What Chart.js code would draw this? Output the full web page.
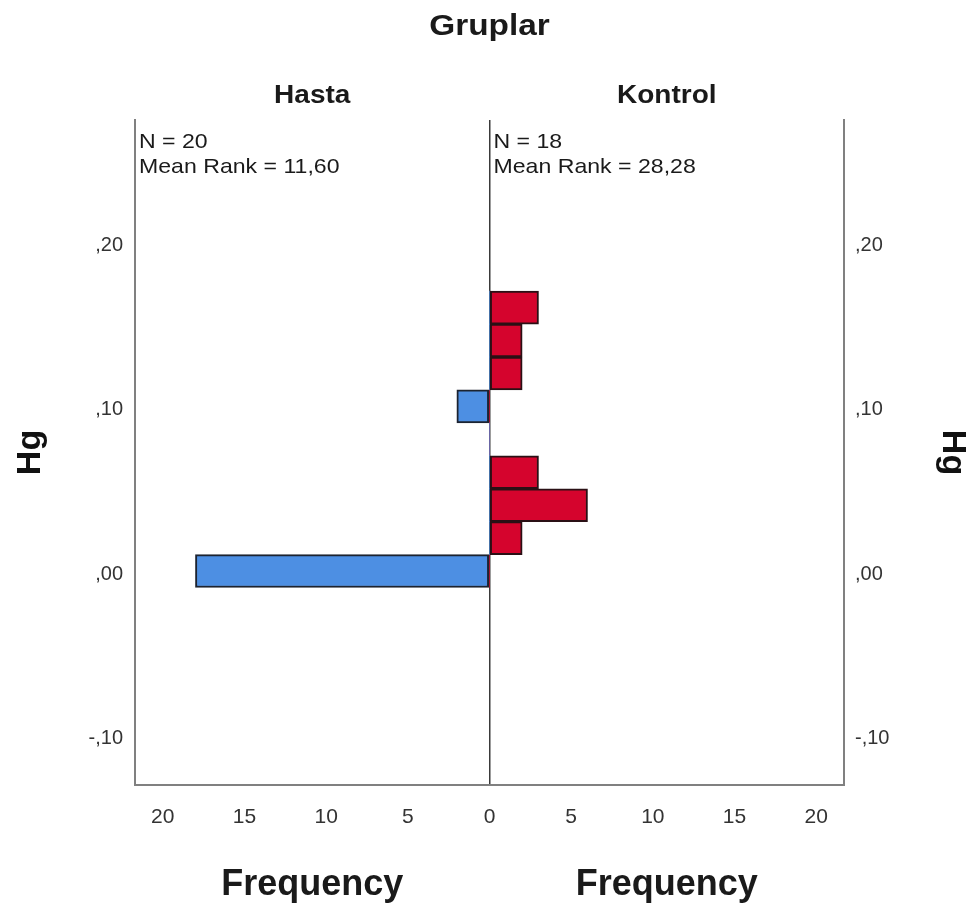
<!DOCTYPE html>
<html>
<head>
<meta charset="utf-8">
<script src="https://cdn.jsdelivr.net/npm/chart.js@4"></script>
<style>
  body { margin: 0; background: #fff; }
  #wrap { width: 971px; height: 903px; }
</style>
</head>
<body>
<div id="wrap"><canvas id="myChart"></canvas></div>
<script>
// histogram bins (Hg value at bin centre) and counts per group
const binCenters = [0.002, 0.022, 0.042, 0.062, 0.082, 0.102, 0.122, 0.142, 0.162];
const hastaCounts = [18, 0, 0, 0, 0, 2, 0, 0, 0];
const kontrolCounts = [0, 2, 6, 3, 0, 0, 2, 2, 3];

const yTicks = [-0.1, 0, 0.1, 0.2];
const yTickLabels = ["-,10", ",00", ",10", ",20"];
const xTicks = [-20, -15, -10, -5, 0, 5, 10, 15, 20];

const groupNames = ["Hasta", "Kontrol"];
const groupN = [20, 18];
const meanRanks = ["11,60", "28,28"];

const FONT = "'Liberation Sans', Arial, sans-serif";

const yRange = { min: -0.128, max: 0.276 };
const xRange = { min: -21.7, max: 21.7 };

function yTickSetup(scale) {
  scale.ticks = yTicks.map(v => ({ value: v }));
}

// the SPSS text looks slightly wide, so stretch it a little
function wideText(ctx, txt, x, y, sx) {
  ctx.save();
  ctx.translate(x, y);
  ctx.scale(sx, 1);
  ctx.fillText(txt, 0, 0);
  ctx.restore();
}

const textPlugin = {
  id: "panelText",
  afterDraw(chart) {
    const ctx = chart.ctx;
    const area = chart.chartArea;
    const zero = chart.scales.x.getPixelForValue(0);
    const centers = [(area.left + zero) / 2, (zero + area.right) / 2];
    const starts = [area.left, zero];
    ctx.save();
    ctx.fillStyle = "#1a1a1a";
    ctx.textBaseline = "alphabetic";

    ctx.textAlign = "center";
    ctx.font = "bold 29px " + FONT;
    wideText(ctx, "Gruplar", (area.left + area.right) / 2, 35, 1.15);

    ctx.font = "bold 25px " + FONT;
    groupNames.forEach((g, i) => wideText(ctx, g, centers[i], 103, 1.12));

    ctx.font = "bold 36px " + FONT;
    centers.forEach(c => ctx.fillText("Frequency", c, 895));

    ctx.textAlign = "left";
    ctx.font = "21px " + FONT;
    groupNames.forEach((g, i) => {
      wideText(ctx, "N = " + groupN[i], starts[i] + 4, 148, 1.1);
      wideText(ctx, "Mean Rank = " + meanRanks[i], starts[i] + 4, 173, 1.1);
    });
    ctx.restore();
  }
};

const barStyle = {
  borderWidth: ctx => (ctx.raw && ctx.raw.x !== 0 ? 2 : 0),
  borderSkipped: false,
  grouped: false,
  barPercentage: 1,
  categoryPercentage: 1,
};

const data = {
  datasets: [
    {
      label: "Hasta",
      data: binCenters.map((b, i) => ({ y: b, x: -hastaCounts[i] })),
      backgroundColor: "#4d8fe3",
      borderColor: "#1c2330",
      ...barStyle,
    },
    {
      label: "Kontrol",
      data: binCenters.map((b, i) => ({ y: b, x: kontrolCounts[i] })),
      backgroundColor: "#d5042d",
      borderColor: "#2a1015",
      ...barStyle,
    },
  ],
};

const yTitle = {
  display: true,
  text: "Hg",
  color: "#111",
  font: { family: FONT, size: 34, weight: "bold", lineHeight: 1 },
};

const config = {
  type: "bar",
  data,
  options: {
    indexAxis: "y",
    responsive: true,
    maintainAspectRatio: false,
    animation: false,
    layout: { padding: { top: 120, left: 0, right: 0, bottom: 0 } },
    plugins: {
      legend: { display: false },
      tooltip: { enabled: false },
    },
    scales: {
      x: {
        type: "linear",
        min: xRange.min,
        max: xRange.max,
        afterBuildTicks: s => { s.ticks = xTicks.map(v => ({ value: v })); },
        afterFit: s => { s.height = 118; },
        ticks: {
          padding: 20,
          color: "#333",
          font: { family: FONT, size: 21 },
          callback: v => String(Math.abs(v)),
        },
        grid: {
          drawTicks: false,
          lineWidth: 1.5,
          color: ctx => (ctx.tick && ctx.tick.value === 0 ? "#3a3a3a" : "rgba(0,0,0,0)"),
        },
        border: { color: "#808080", width: 2 },
      },
      y: {
        type: "linear",
        position: "left",
        offset: false,
        min: yRange.min,
        max: yRange.max,
        afterBuildTicks: yTickSetup,
        afterFit: s => { s.width = 135; },
        ticks: {
          padding: 12,
          color: "#333",
          font: { family: FONT, size: 20 },
          callback: v => yTickLabels[yTicks.indexOf(v)],
        },
        grid: { display: false, drawTicks: false, offset: false },
        border: { color: "#808080", width: 2 },
        title: { ...yTitle, padding: { top: 14, bottom: 0 } },
      },
      y2: {
        type: "linear",
        position: "right",
        offset: false,
        min: yRange.min,
        max: yRange.max,
        afterBuildTicks: yTickSetup,
        afterFit: s => { s.width = 127; },
        ticks: {
          padding: 11,
          color: "#333",
          font: { family: FONT, size: 20 },
          callback: v => yTickLabels[yTicks.indexOf(v)],
        },
        grid: { display: false, drawTicks: false, offset: false },
        border: { color: "#808080", width: 2 },
        title: { ...yTitle, padding: { top: 2, bottom: 0 } },
      },
    },
  },
  plugins: [textPlugin],
};

const myChart = new Chart(document.getElementById("myChart"), config);
</script>
</body>
</html>
